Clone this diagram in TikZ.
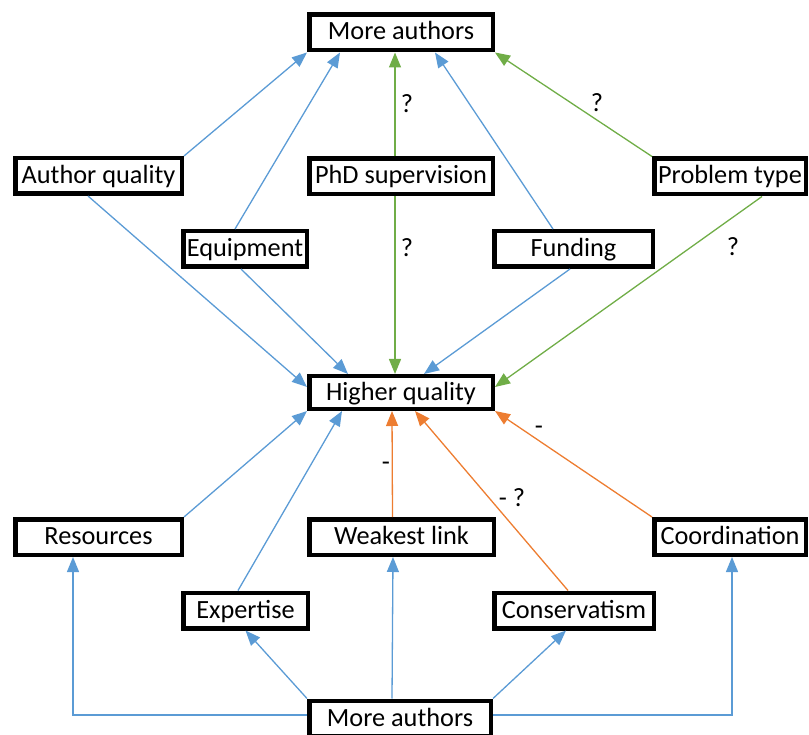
\documentclass[tikz,border=0pt]{standalone}
\usepackage{fontspec}
\setmainfont{Carlito}
\usetikzlibrary{arrows.meta}
\definecolor{linkblue}{HTML}{5B9BD5}
\definecolor{linkgreen}{HTML}{70AD47}
\definecolor{linkorange}{HTML}{ED7D31}
\begin{document}
\begin{tikzpicture}[x=1pt, y=-1pt,
factor/.style={draw, line width=4.5pt, inner sep=0pt, minimum height=35.5pt,
  text height=19.5pt, text depth=4.5pt, font=\fontsize{26.3}{30}\selectfont},
lbl/.style={inner sep=0pt, font=\fontsize{26.3}{30}\selectfont},
link/.style={line width=1.3pt, -{Triangle[length=15pt,width=12pt]}},
bluearr/.style={link, draw=linkblue},
greenarr/.style={link, draw=linkgreen},
orangearr/.style={link, draw=linkorange}]
\useasboundingbox (0,0) rectangle (809,735);

\node[factor, minimum width=183.5pt] (topauth) at (401,32.5) {More authors};
\node[factor, minimum width=166.5pt] (authq) at (98.5,176) {Author quality};
\node[factor, minimum width=183.5pt] (phd) at (401,176.5) {PhD supervision};
\node[factor, minimum width=151.5pt] (probt) at (730,176.5) {Problem type};
\node[factor, minimum width=123.5pt] (equip) at (245,249) {Equipment};
\node[factor, minimum width=158.5pt] (fund) at (573.5,249) {Funding};
\node[factor, minimum width=183.5pt, minimum height=32.5pt] (higher) at (401,392.5) {Higher quality};
\node[factor, minimum width=166.5pt] (resour) at (98.5,537) {Resources};
\node[factor, minimum width=184.5pt] (weak) at (401.5,537) {Weakest link};
\node[factor, minimum width=151.5pt] (coord) at (730,537) {Coordination};
\node[factor, minimum width=124.5pt] (expert) at (245.5,610.5) {Expertise};
\node[factor, minimum width=159.5pt] (conserv) at (574,610.5) {Conservatism};
\node[factor, minimum width=181.5pt] (botauth) at (400,718.5) {More authors};

% into the top box
\draw[bluearr] (authq.north east) -- (topauth.south west);
\draw[bluearr] ([xshift=-10pt]equip.north) -- ([xshift=-61pt]topauth.south);
\draw[greenarr] ([xshift=-6pt]phd.north) -- ([xshift=-6pt]topauth.south);
\draw[bluearr] ([xshift=-20.5pt]fund.north) -- ([xshift=34pt]topauth.south);
\draw[greenarr] (probt.north west) -- (topauth.south east);

% into higher quality from above
\draw[bluearr] ([xshift=-10.5pt]authq.south) -- ([yshift=5.5pt]higher.west);
\draw[bluearr] ([xshift=-4pt]equip.south) -- ([xshift=-53pt]higher.north);
\draw[greenarr] ([xshift=-6pt]phd.south) -- ([xshift=-6pt]higher.north);
\draw[bluearr] ([xshift=-3.5pt]fund.south) -- ([xshift=23pt]higher.north);
\draw[greenarr] ([xshift=32pt]probt.south) -- ([yshift=5.5pt]higher.east);

% into higher quality from below
\draw[bluearr] (resour.north east) -- (higher.south west);
\draw[bluearr] ([xshift=-7.5pt]expert.north) -- ([xshift=-59pt]higher.south);
\draw[orangearr] ([xshift=-9pt]weak.north) -- ([xshift=-9pt]higher.south);
\draw[orangearr] ([xshift=-6pt]conserv.north) -- ([xshift=14pt]higher.south);
\draw[orangearr] (coord.north west) -- (higher.south east);

% out of the bottom box
\draw[bluearr] ([yshift=3.5pt]botauth.west) -| ([xshift=-25.5pt]resour.south);
\draw[bluearr] (botauth.north west) -- (expert.south);
\draw[bluearr] ([xshift=-8pt]botauth.north) -- ([xshift=-8.5pt]weak.south);
\draw[bluearr] (botauth.north east) -- ([xshift=-8pt]conserv.south);
\draw[bluearr] ([yshift=3.5pt]botauth.east) -| ([xshift=2pt]coord.south);

\node[lbl] (qphdtop) at (407,104) {?};
\node[lbl] (qphdhigh) at (407,248) {?};
\node[lbl] (qprobtop) at (597,103) {?};
\node[lbl] (qprobhigh) at (733,247) {?};
\node[lbl] (mweak) at (386,466) {-};
\node[lbl] (mconserv) at (512,498) {- ?};
\node[lbl] (mcoord) at (539,430) {-};
\end{tikzpicture}
\end{document}
